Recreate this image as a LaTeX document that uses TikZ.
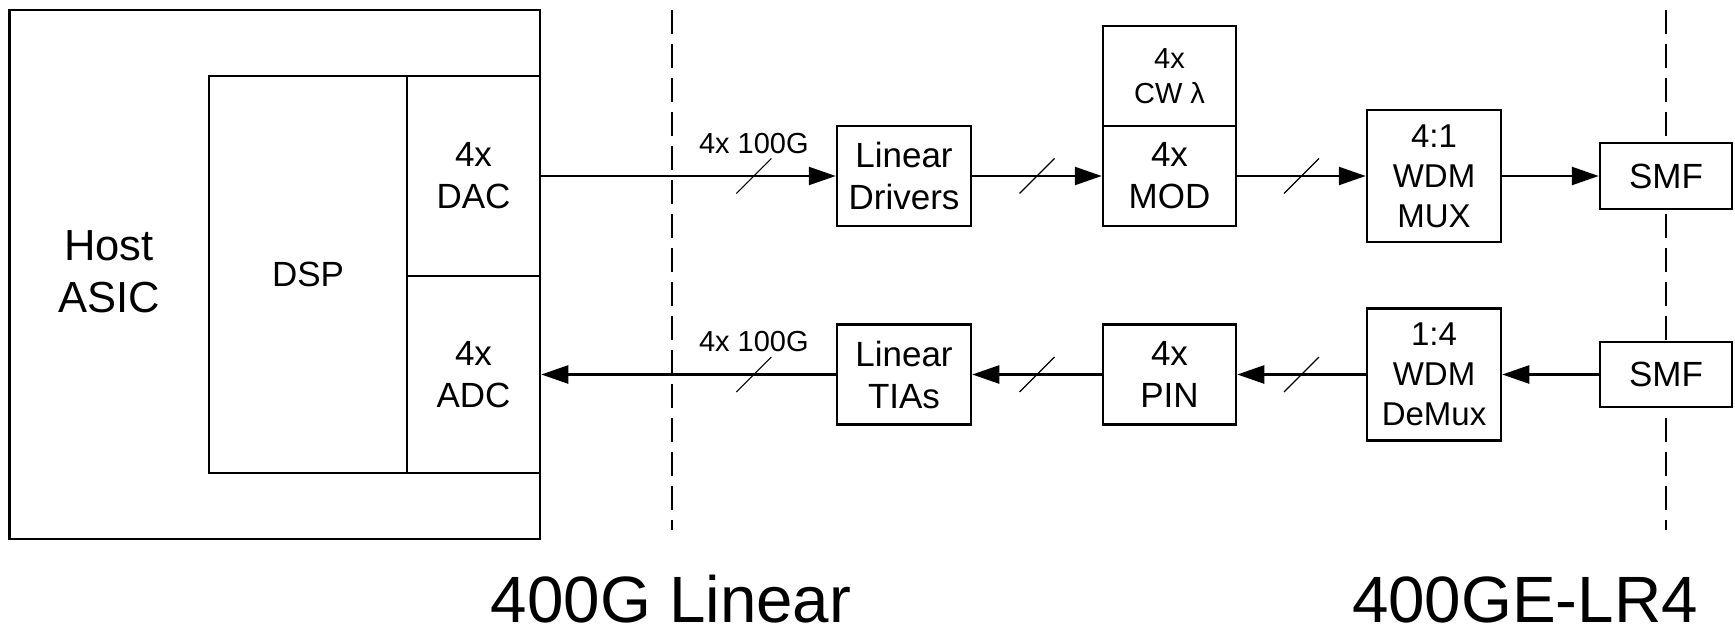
\documentclass[tikz,border=0pt]{standalone}
\usepackage{fontspec}
\setmainfont{Liberation Sans}
\usetikzlibrary{arrows.meta,calc}
\begin{document}
\begin{tikzpicture}[x=1pt,y=-1pt,
  box/.style={draw, line width=2.5pt, fill=white, inner sep=0pt, align=center,
    font=\fontsize{35}{42}\selectfont},
  wdmtext/.style={font=\fontsize{33}{40}\selectfont},
  cwtext/.style={font=\fontsize{29}{35}\selectfont},
  arr/.style={line width=2.5pt, -{Triangle[length=27pt,width=18pt]}},
  slash/.style={line width=1.2pt},
  bound/.style={line width=2pt, dash pattern=on 24pt off 10pt},
  ratelabel/.style={anchor=base, inner sep=0pt, font=\fontsize{29}{35}\selectfont},
  section/.style={anchor=base, inner sep=0pt, font=\fontsize{65.5}{78}\selectfont}]
\useasboundingbox (0,0) rectangle (1735,629);

% interface boundaries
\coordinate (b1top) at (672,10);
\coordinate (b1bot) at (672,530);
\coordinate (b2top) at (1666,10);
\coordinate (b2bot) at (1666,530);
\draw[bound] (b1top) -- (b1bot);
\draw[bound] (b2top) -- (b2bot);

% host side
\node[box, minimum width=530.5pt, minimum height=529pt] (host) at (274.75,274.5) {};
\node[inner sep=0pt, align=center, font=\fontsize{43.5}{52}\selectfont] (hostlabel) at (109,272) {Host\\ASIC};
\node[box, minimum width=198pt, minimum height=397pt] (dsp) at (308,274.5) {DSP};
\node[box, minimum width=133pt, minimum height=200pt] (dac) at (473.5,176) {4x\\DAC};
\node[box, minimum width=133pt, minimum height=197pt] (adc) at (473.5,374.5) {4x\\ADC};

% transmit chain
\node[box, minimum width=134pt, minimum height=100pt] (drv) at (904,176) {Linear\\Drivers};
\node[box, cwtext, minimum width=133pt, minimum height=100pt] (cw) at (1169.5,76) {4x\\CW λ};
\node[box, minimum width=133pt, minimum height=100pt] (mod) at (1169.5,176) {4x\\MOD};
\node[box, wdmtext, minimum width=134pt, minimum height=132pt] (mux) at (1434,176) {4:1\\WDM\\MUX};
\node[box, minimum width=132pt, minimum height=66pt] (smftx) at (1666,176) {SMF};

% receive chain
\node[box, minimum width=134pt, minimum height=100pt] (tia) at (904,374.5) {Linear\\TIAs};
\node[box, minimum width=133pt, minimum height=100pt] (pin) at (1169.5,374.5) {4x\\PIN};
\node[box, wdmtext, minimum width=134pt, minimum height=132pt] (demux) at (1434,374.5) {1:4\\WDM\\DeMux};
\node[box, minimum width=132pt, minimum height=65pt] (smfrx) at (1666,374.5) {SMF};

% connectors
\draw[arr] (dac.east) -- (drv.west);
\draw[arr] (drv.east) -- (mod.west);
\draw[arr] (mod.east) -- (mux.west);
\draw[arr] (mux.east) -- (smftx.west);
\draw[arr] (smfrx.west) -- (demux.east);
\draw[arr] (demux.west) -- (pin.east);
\draw[arr] (pin.west) -- (tia.east);
\draw[arr] (tia.west) -- (adc.east);

% bus markers
\coordinate (s1) at ($(b1top |- drv.west)!0.5!(drv.west)$);
\coordinate (s2) at ($(drv.east)!0.5!(mod.west)$);
\coordinate (s3) at ($(mod.east)!0.5!(mux.west)$);
\coordinate (s4) at ($(b1top |- tia.west)!0.5!(tia.west)$);
\coordinate (s5) at ($(tia.east)!0.5!(pin.west)$);
\coordinate (s6) at ($(pin.east)!0.5!(demux.west)$);
\foreach \s in {s1,s2,s3,s4,s5,s6}
  \draw[slash] ($(\s)+(-17.5,17.5)$) -- ($(\s)+(17.5,-17.5)$);

\node[ratelabel] (ratetx) at ($(s1)+(0,-23)$) {4x 100G};
\node[ratelabel] (raterx) at ($(s4)+(0,-23)$) {4x 100G};

% section titles
\node[section] (linear) at (671,622) {400G Linear};
\node[section] (lr4) at (1525,622) {400GE-LR4};
\end{tikzpicture}
\end{document}
